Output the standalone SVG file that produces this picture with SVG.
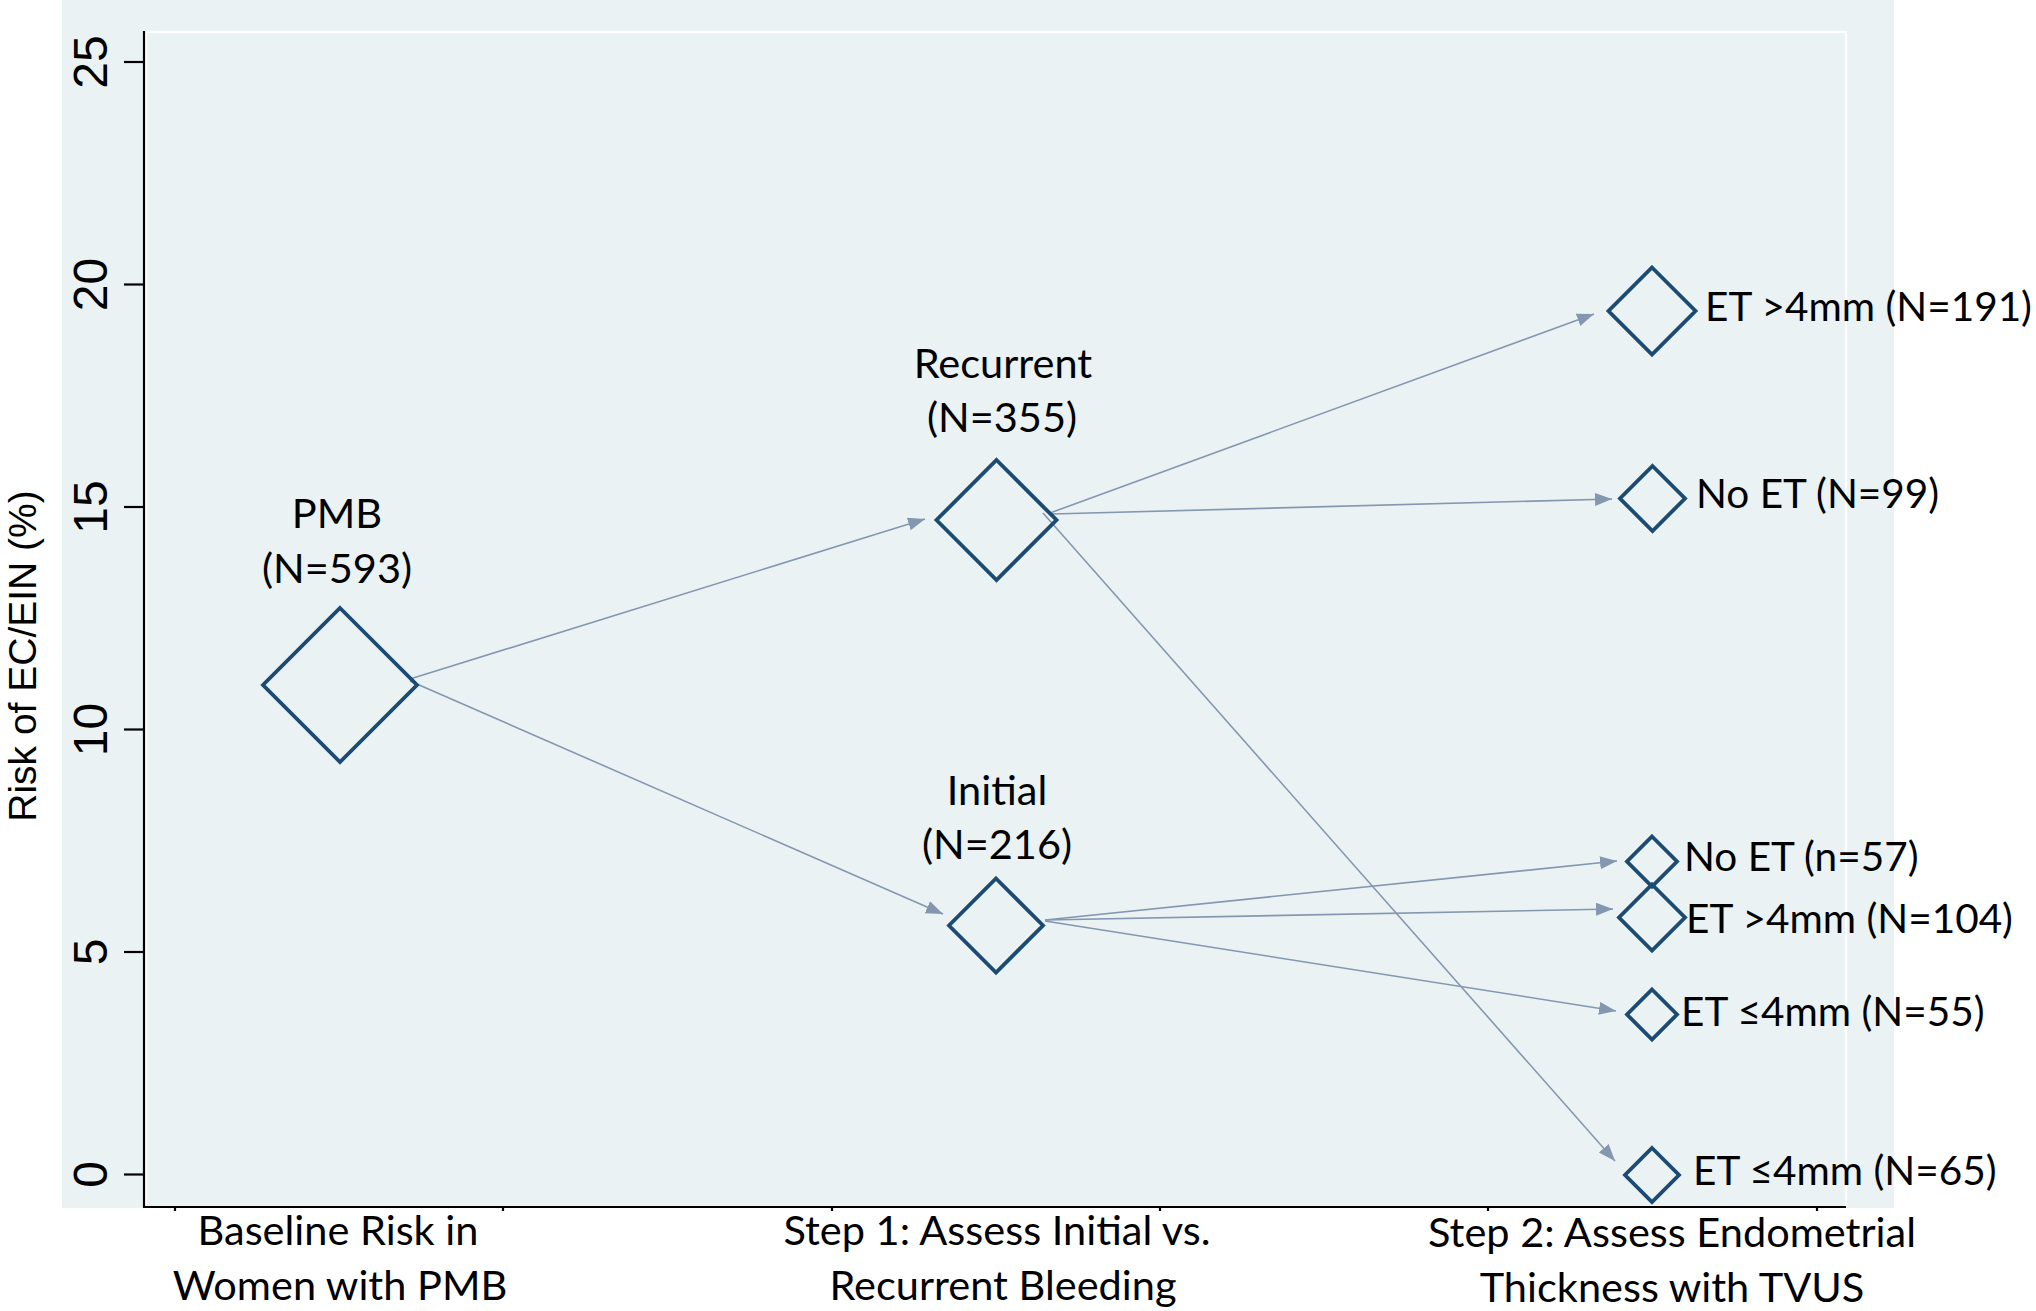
<svg xmlns="http://www.w3.org/2000/svg" width="2036" height="1311" viewBox="0 0 2036 1311">
<style>
.lbl{font-family:Lato,"Open Sans","Liberation Sans",sans-serif;font-size:41.5px;fill:#000}
.rl{font-family:Lato,"Open Sans","Liberation Sans",sans-serif;font-size:40.5px;fill:#000}
.mid{text-anchor:middle}
.tick{font-family:"Liberation Sans",Arial,sans-serif;font-size:48px;fill:#000;text-anchor:middle}
.ytitle{font-family:"Liberation Sans",Arial,sans-serif;font-size:39px;fill:#000;text-anchor:middle}
.dia{fill:none;stroke:#1b4a72;stroke-width:3.8;stroke-linejoin:miter}
.con{stroke:#8497b0;stroke-width:1.6;fill:none;marker-end:url(#arr)}
.ax{stroke:#000;stroke-width:2.2;fill:none}
</style>
<defs>
<marker id="arr" markerUnits="userSpaceOnUse" markerWidth="18" markerHeight="14" refX="17" refY="6.5" orient="auto">
<path d="M0,0 L17,6.5 L0,13 z" fill="#8497b0"/>
</marker>
</defs>
<rect x="0" y="0" width="2036" height="1311" fill="#fff"/>
<rect id="background" x="62" y="0" width="1832" height="1208" fill="#eaf2f3"/>
<rect id="plotregion" x="146" y="32" width="1700" height="1175" fill="none" stroke="#fff" stroke-width="2.2"/>
<g id="axes">
<line class="ax" x1="144" y1="31" x2="144" y2="1207"/>
<line class="ax" x1="143" y1="1207" x2="1846" y2="1207"/>
<g class="ax">
<line x1="124" y1="62" x2="144" y2="62"/>
<line x1="124" y1="284.5" x2="144" y2="284.5"/>
<line x1="124" y1="507" x2="144" y2="507"/>
<line x1="124" y1="729.5" x2="144" y2="729.5"/>
<line x1="124" y1="952" x2="144" y2="952"/>
<line x1="124" y1="1174.5" x2="144" y2="1174.5"/>
<line x1="175" y1="1207" x2="175" y2="1211"/>
<line x1="503" y1="1207" x2="503" y2="1211"/>
<line x1="832" y1="1207" x2="832" y2="1211"/>
<line x1="1160" y1="1207" x2="1160" y2="1211"/>
<line x1="1488" y1="1207" x2="1488" y2="1211"/>
<line x1="1817" y1="1207" x2="1817" y2="1211"/>
</g>
<text class="tick" transform="translate(107,62) rotate(-90)">25</text>
<text class="tick" transform="translate(107,284.5) rotate(-90)">20</text>
<text class="tick" transform="translate(107,507) rotate(-90)">15</text>
<text class="tick" transform="translate(107,729.5) rotate(-90)">10</text>
<text class="tick" transform="translate(107,952) rotate(-90)">5</text>
<text class="tick" transform="translate(107,1174.5) rotate(-90)">0</text>
<text class="ytitle" transform="translate(36,656) rotate(-90)">Risk of EC/EIN (%)</text>
<text class="lbl mid" x="338" y="1245">Baseline Risk in</text>
<text class="lbl mid" x="340" y="1300">Women with PMB</text>
<text class="lbl mid" x="997" y="1245">Step 1: Assess Initial vs.</text>
<text class="lbl mid" x="1003" y="1300">Recurrent Bleeding</text>
<text class="lbl mid" x="1672" y="1247">Step 2: Assess Endometrial</text>
<text class="lbl mid" x="1672" y="1302">Thickness with TVUS</text>
</g>
<g id="connectors">
<line class="con" x1="410" y1="679" x2="925" y2="519"/>
<line class="con" x1="410" y1="681" x2="943" y2="914"/>
<line class="con" x1="1050" y1="513" x2="1594" y2="314"/>
<line class="con" x1="1052" y1="514" x2="1612" y2="499"/>
<line class="con" x1="1043" y1="513" x2="1615" y2="1161"/>
<line class="con" x1="1045" y1="920" x2="1617" y2="861"/>
<line class="con" x1="1045" y1="920" x2="1613" y2="909"/>
<line class="con" x1="1045" y1="921" x2="1616" y2="1011"/>
</g>
<g id="node-pmb">
<polygon class="dia" points="340,608 417,685 340,762 263,685"/>
<text class="lbl mid" x="337" y="528">PMB</text>
<text class="lbl mid" x="337" y="583">(N=593)</text>
</g>
<g id="node-recurrent">
<polygon class="dia" points="996.5,460 1056.5,520 996.5,580 936.5,520"/>
<text class="lbl mid" x="1003" y="378">Recurrent</text>
<text class="lbl mid" x="1002" y="432">(N=355)</text>
</g>
<g id="node-initial">
<polygon class="dia" points="996,878.5 1043,925.5 996,972.5 949,925.5"/>
<text class="lbl mid" x="997" y="805">Initial</text>
<text class="lbl mid" x="997" y="859">(N=216)</text>
</g>
<g id="node-rec-et-gt4">
<polygon class="dia" points="1652,267.5 1695.5,311 1652,354.5 1608.5,311"/>
<text class="rl" x="1705" y="321">ET &gt;4mm (N=191)</text>
</g>
<g id="node-rec-no-et">
<polygon class="dia" points="1652.5,466 1685,498.5 1652.5,531 1620,498.5"/>
<text class="rl" x="1696" y="508">No ET (N=99)</text>
</g>
<g id="node-ini-no-et">
<polygon class="dia" points="1652,836.5 1677,861.5 1652,886.5 1627,861.5"/>
<text class="rl" x="1684" y="871">No ET (n=57)</text>
</g>
<g id="node-ini-et-gt4">
<polygon class="dia" points="1652,884.5 1685,917.5 1652,950.5 1619,917.5"/>
<text class="rl" x="1686" y="933">ET &gt;4mm (N=104)</text>
</g>
<g id="node-ini-et-le4">
<polygon class="dia" points="1652,989.5 1677,1014.5 1652,1039.5 1627,1014.5"/>
<text class="rl" x="1681" y="1026">ET ≤4mm (N=55)</text>
</g>
<g id="node-rec-et-le4">
<polygon class="dia" points="1652,1148 1679,1175 1652,1202 1625,1175"/>
<text class="rl" x="1693" y="1185">ET ≤4mm (N=65)</text>
</g>
</svg>
